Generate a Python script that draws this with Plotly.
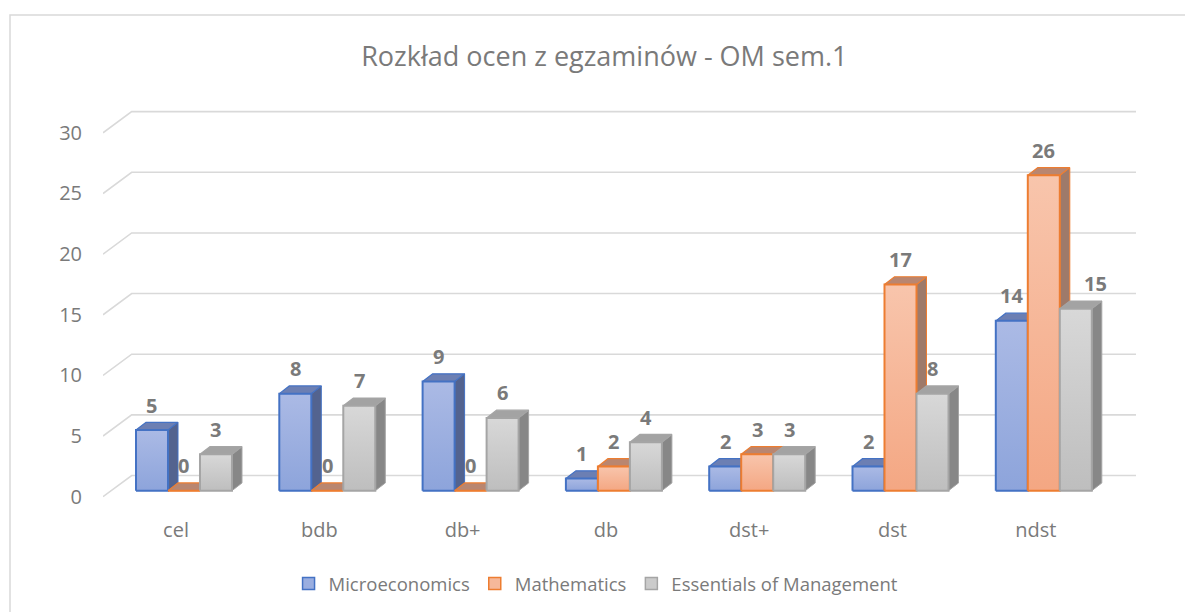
import plotly.graph_objects as go

# ---------------- data ----------------
categories = ["cel", "bdb", "db+", "db", "dst+", "dst", "ndst"]
microeconomics = [5, 8, 9, 1, 2, 2, 14]
mathematics = [0, 0, 0, 2, 3, 17, 26]
essentials = [3, 7, 6, 4, 3, 8, 15]
series_names = ["Microeconomics", "Mathematics", "Essentials of Management"]
y_ticks = [0, 5, 10, 15, 20, 25, 30]
title_text = "Rozkład ocen z egzaminów - OM sem.1"

# ---------------- styles ----------------
styles = [
    dict(line="#4472C4", front_top="#ABBAE5", front_bottom="#8DA4DB", top="#6C7FB3", side="#53638F", legend="#9AAEE0"),
    dict(line="#ED7D31", front_top="#F8C5AC", front_bottom="#F4A783", top="#B98670", side="#9E7A6A", legend="#F6B89A"),
    dict(line="#A5A5A5", front_top="#D8D8D8", front_bottom="#BEBEBE", top="#A3A3A3", side="#878787", legend="#CBCBCB"),
]
# label nudges (pixels) where the original moved a label to avoid a taller neighbour
label_xshift = {(6, 2): 20}

TEXT = "#7A7A7A"
GRID = "#D9D9D9"
FONT = "Open Sans"

BAR_W = 0.2233      # width of one bar front face (category units)
DX, DY = 0.0698, 0.635          # bar depth projection
WALL_DX, WALL_FRONT, WALL_BACK = 0.2, -0.5, 1.25  # wall / floor projection
X_RANGE = [-0.5652, 6.6434]
Y_RANGE = [-0.77, 32.21]
W, H = 1185, 612
ML, MR, MT, MB = 103, 49, 100, 112

fig = go.Figure()

# gridlines drawn in perspective (wall front edge -> back wall)
for v in y_ticks:
    fig.add_trace(go.Scatter(
        x=[X_RANGE[0], X_RANGE[0] + WALL_DX, X_RANGE[1]],
        y=[v + WALL_FRONT, v + WALL_BACK, v + WALL_BACK],
        mode="lines", line=dict(color=GRID, width=1.6),
        hoverinfo="skip", showlegend=False))

values = [microeconomics, mathematics, essentials]
for i, cat in enumerate(categories):
    for j in range(3):
        v = values[j][i]
        st = styles[j]
        x0 = i + (j - 1.5) * BAR_W
        x1 = x0 + BAR_W
        # side face
        fig.add_trace(go.Scatter(
            x=[x1, x1 + DX, x1 + DX, x1, x1], y=[0, DY, v + DY, v, 0],
            fill="toself", fillcolor=st["side"], mode="lines",
            line=dict(color=st["line"], width=1), hoverinfo="skip", showlegend=False))
        # top face
        fig.add_trace(go.Scatter(
            x=[x0, x1, x1 + DX, x0 + DX, x0], y=[v, v, v + DY, v + DY, v],
            fill="toself", fillcolor=st["top"], mode="lines",
            line=dict(color=st["line"], width=1.2), hoverinfo="skip", showlegend=False))
        # front face
        front = dict(x=[x0, x1, x1, x0, x0], y=[0, 0, v, v, 0], mode="lines",
                     line=dict(color=st["line"], width=2),
                     name=series_names[j], showlegend=False,
                     hovertemplate=f"{series_names[j]}<br>{cat}: {v}<extra></extra>")
        if v > 0:
            front.update(fill="toself", fillgradient=dict(
                type="vertical",
                colorscale=[[0, st["front_bottom"]], [1, st["front_top"]]]))
        fig.add_trace(go.Scatter(**front))
        # data label
        fig.add_annotation(x=x0 + BAR_W / 2, y=v, xref="x", yref="y", text=f"<b>{v}</b>",
                           showarrow=False, yshift=25, xshift=label_xshift.get((i, j), 0),
                           yanchor="middle",
                           font=dict(family=FONT, size=20, color=TEXT))

# legend entries
for j, name in enumerate(series_names):
    fig.add_trace(go.Bar(x=[None], y=[None], name=name,
                         marker=dict(color=styles[j]["legend"],
                                     line=dict(color=styles[j]["line"], width=1.5))))

# chart border (left and top visible)
def px_x(p):
    return (p - ML) / (W - ML - MR)

def px_y(p):
    return (H - MB - p) / (H - MT - MB)

fig.add_shape(type="rect", xref="paper", yref="paper",
              x0=px_x(10), x1=px_x(1210), y0=px_y(640), y1=px_y(15),
              line=dict(color="#D9D9D9", width=1.5), fillcolor="rgba(0,0,0,0)", layer="below")

fig.update_layout(
    width=W, height=H,
    margin=dict(l=ML, r=MR, t=MT, b=MB),
    paper_bgcolor="white", plot_bgcolor="white",
    font=dict(family=FONT, color=TEXT),
    title=dict(text=title_text, xref="container", x=0.51, xanchor="center",
               yref="container", y=1 - 57 / H, yanchor="middle",
               font=dict(family=FONT, size=27, color=TEXT)),
    xaxis=dict(type="linear", range=X_RANGE, tickvals=list(range(len(categories))),
               ticktext=categories, showgrid=False, zeroline=False, showline=False,
               ticks="", ticklabelstandoff=16, ticklabelshift=-8,
               tickfont=dict(family=FONT, size=20, color=TEXT), fixedrange=True),
    yaxis=dict(range=Y_RANGE, tickvals=y_ticks, showgrid=False, zeroline=False,
               showline=False, ticks="", ticklabelstandoff=20, ticklabelshift=6,
               tickfont=dict(family=FONT, size=20, color=TEXT), fixedrange=True),
    legend=dict(orientation="h", xref="container", x=0.503, xanchor="center",
                yref="container", y=1 - 584 / H, yanchor="middle",
                font=dict(family=FONT, size=18.5, color=TEXT), itemclick=False,
                bgcolor="rgba(0,0,0,0)"),
    showlegend=True,
)

fig.write_html("out.html", config={"displayModeBar": False},
               post_script="document.body.style.margin='0';document.body.style.overflow='hidden';")
